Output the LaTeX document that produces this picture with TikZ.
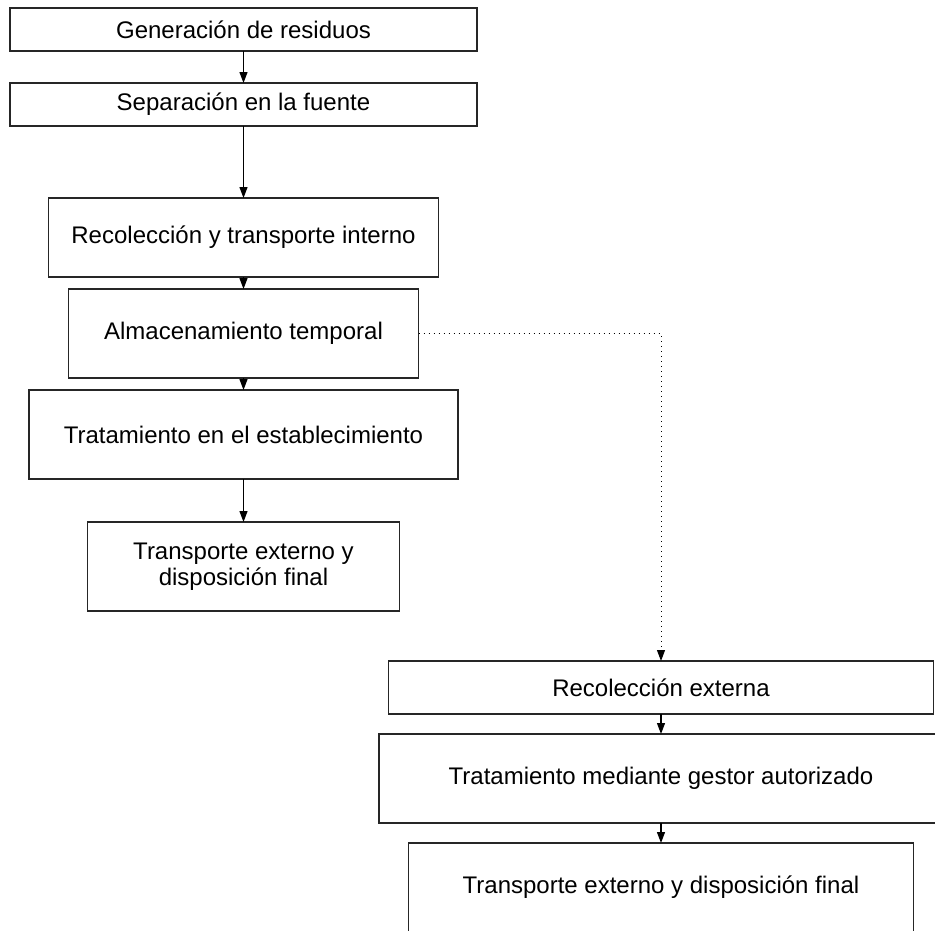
\documentclass[tikz,border=0pt]{standalone}
\usepackage{fontspec}
\setmainfont{Liberation Sans}
\usetikzlibrary{arrows.meta}

\begin{document}
\begin{tikzpicture}[x=1pt, y=-1pt, >={Triangle[width=8pt,length=11pt]},
	paso/.style={draw=black!85, line width=1.2pt, inner sep=0pt, outer sep=0pt, align=center,
		font=\fontsize{24}{26}\selectfont}]
	\useasboundingbox (0,0) rectangle (935,930);
	\clip (0,0) rectangle (935,930);
	% Nodes {gen, sep, recint, alm, trat, transp, etc}
	\node [paso, minimum width=467pt, minimum height=43pt] (gen)    at (243.5,29.5)  {Generación de residuos};
	\node [paso, minimum width=467pt, minimum height=43pt] (sep)    at (243.5,104.5) {Separación en la fuente};
	\node [paso, minimum width=390pt, minimum height=79pt] (recint) at (243.5,237.5) {Recolección y transporte interno};
	\node [paso, minimum width=350pt, minimum height=89pt] (alm)    at (243.5,333.5) {Almacenamiento temporal};
	\node [paso, minimum width=429pt, minimum height=89pt] (trat)   at (243.5,434.5) {Tratamiento en el establecimiento};
	\node [paso, minimum width=312pt, minimum height=89pt] (transp) at (243.5,566.5) {Transporte externo y\\disposición final};
	\node [paso, minimum width=545pt, minimum height=53pt] (recext) at (661,687.5)   {Recolección externa};
	\node [paso, minimum width=564pt, minimum height=89pt] (gestor) at (661,778.5)   {Tratamiento mediante gestor autorizado};
	\node [paso, minimum width=505pt, minimum height=89pt] (final)  at (661,887.5)   {Transporte externo y disposición final};
	
	% Paths
	\path [->, line width=1.2pt] (gen)    edge (sep)
	                             (sep)    edge (recint)
	                             (recint) edge (alm)
	                             (alm)    edge (trat)
	                             (trat)   edge (transp)
	                             (recext) edge (gestor)
	                             (gestor) edge (final);
	\draw [->, dash pattern=on 1pt off 4pt, line width=1pt] (alm.east) -| (recext.north);
	
\end{tikzpicture}
\end{document}
